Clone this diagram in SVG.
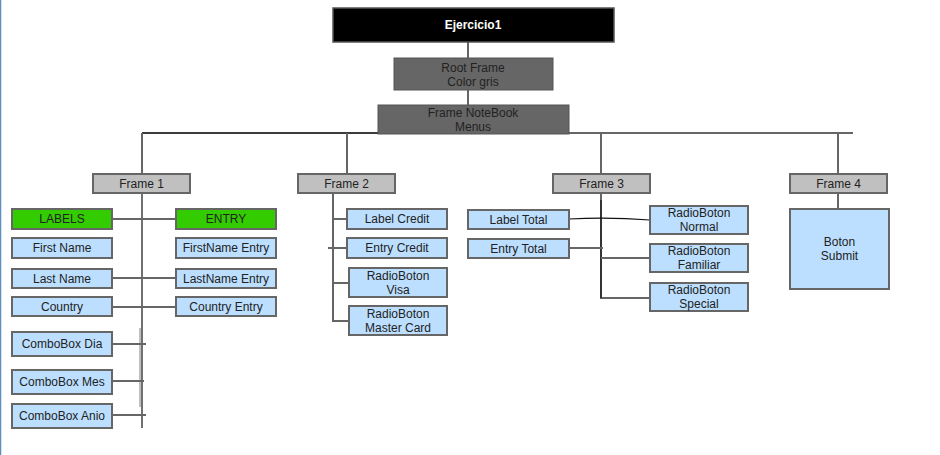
<svg xmlns="http://www.w3.org/2000/svg" width="940" height="455" viewBox="0 0 940 455">
<style>
  text { font-family: "Liberation Sans", Arial, sans-serif; font-size: 12px; fill: #222222; text-anchor: middle; dominant-baseline: central; }
  .blue { fill: #bcdfff; stroke: #666666; stroke-width: 2; }
  .green { fill: #33cc00; stroke: #666666; stroke-width: 2; }
  .frame { fill: #c0c0c0; stroke: #666666; stroke-width: 2; }
  .dark { fill: #666666; stroke: #555555; stroke-width: 1; }
  .conn { fill: none; stroke: #666666; stroke-width: 2; }
  .blk { fill: none; stroke: #111111; stroke-width: 1.2; }
</style>
<rect x="0" y="0" width="940" height="455" fill="#ffffff"/>
<line x1="0.5" y1="0" x2="0.5" y2="455" stroke="#5a8fc0" stroke-width="1.5"/>

<g id="connectors">
  <line class="conn" x1="468" y1="42" x2="468" y2="58"/>
  <line class="conn" x1="468" y1="90" x2="468" y2="105"/>
  <line class="conn" x1="142" y1="133" x2="853" y2="133"/>
  <line class="blk" x1="142" y1="133" x2="380" y2="133"/>
  <line class="conn" x1="142" y1="133" x2="142" y2="174"/>
  <line class="conn" x1="347" y1="133" x2="347" y2="174"/>
  <line class="conn" x1="601" y1="133" x2="601" y2="174"/>
  <line class="conn" x1="838" y1="133" x2="838" y2="174"/>
  <!-- Frame 1 -->
  <line class="blk" x1="142" y1="193" x2="142" y2="428"/>
  <line x1="140" y1="328" x2="140" y2="407" stroke="#aaaaaa" stroke-width="1.5"/>
  <line class="conn" x1="112" y1="219" x2="176" y2="219"/>
  <line class="conn" x1="112" y1="278" x2="176" y2="278"/>
  <line class="conn" x1="112" y1="307" x2="176" y2="307"/>
  <line class="conn" x1="112" y1="344" x2="146" y2="344"/>
  <line class="conn" x1="109" y1="381" x2="144" y2="381"/>
  <line class="conn" x1="112" y1="415" x2="146" y2="415"/>
  <!-- Frame 2 -->
  <path class="conn" d="M333 193 V321 H349"/>
  <line class="conn" x1="333" y1="219" x2="347" y2="219"/>
  <line class="conn" x1="328" y1="248" x2="347" y2="248"/>
  <line class="conn" x1="333" y1="283" x2="349" y2="283"/>
  <!-- Frame 3 -->
  <path class="conn" d="M601 193 V298 H650"/>
  <line class="blk" x1="601" y1="200" x2="601" y2="298"/>
  <path class="blk" d="M569 219 Q610 217 650 220"/>
  <line class="conn" x1="569" y1="248" x2="603" y2="248"/>
  <line class="conn" x1="601" y1="258" x2="650" y2="258"/>
  <!-- Frame 4 -->
  <line class="conn" x1="838" y1="193" x2="838" y2="209"/>
</g>

<g id="ejercicio1">
  <rect x="333" y="8" width="281" height="34" fill="#000000" stroke="#555555" stroke-width="1.5"/>
  <text x="473" y="25" style="fill:#ffffff;font-weight:bold">Ejercicio1</text>
</g>
<g id="root-frame">
  <rect class="dark" x="394" y="58" width="159" height="32"/>
  <text x="473" y="68">Root Frame</text>
  <text x="473" y="82">Color gris</text>
</g>
<g id="frame-notebook">
  <rect class="dark" x="378" y="105" width="191" height="29"/>
  <text x="473" y="113">Frame NoteBook</text>
  <text x="473" y="127">Menus</text>
</g>

<g id="frame1"><rect class="frame" x="93" y="174" width="97" height="19"/><text x="141.5" y="184">Frame 1</text></g>
<g id="frame2"><rect class="frame" x="298" y="174" width="97" height="19"/><text x="346.5" y="184">Frame 2</text></g>
<g id="frame3"><rect class="frame" x="553" y="174" width="97" height="19"/><text x="601.5" y="184">Frame 3</text></g>
<g id="frame4"><rect class="frame" x="790" y="174" width="97" height="19"/><text x="838.5" y="184">Frame 4</text></g>

<g id="labels"><rect class="green" x="12" y="209" width="100" height="20"/><text x="62" y="219">LABELS</text></g>
<g id="entry"><rect class="green" x="176" y="209" width="100" height="20"/><text x="226" y="219">ENTRY</text></g>
<g id="first-name"><rect class="blue" x="12" y="238" width="100" height="20"/><text x="62" y="248">First Name</text></g>
<g id="firstname-entry"><rect class="blue" x="176" y="238" width="100" height="20"/><text x="226" y="248">FirstName Entry</text></g>
<g id="last-name"><rect class="blue" x="12" y="269" width="100" height="19"/><text x="62" y="278.5">Last Name</text></g>
<g id="lastname-entry"><rect class="blue" x="176" y="269" width="100" height="19"/><text x="226" y="278.5">LastName Entry</text></g>
<g id="country"><rect class="blue" x="12" y="297" width="100" height="19"/><text x="62" y="306.5">Country</text></g>
<g id="country-entry"><rect class="blue" x="176" y="297" width="100" height="19"/><text x="226" y="306.5">Country Entry</text></g>
<g id="combo-dia"><rect class="blue" x="12" y="332" width="100" height="24"/><text x="62" y="344">ComboBox Dia</text></g>
<g id="combo-mes"><rect class="blue" x="12" y="370" width="100" height="24"/><text x="62" y="382">ComboBox Mes</text></g>
<g id="combo-anio"><rect class="blue" x="12" y="404" width="100" height="24"/><text x="62" y="416">ComboBox Anio</text></g>

<g id="label-credit"><rect class="blue" x="347" y="209" width="100" height="20"/><text x="397" y="219">Label Credit</text></g>
<g id="entry-credit"><rect class="blue" x="347" y="238" width="100" height="20"/><text x="397" y="248">Entry Credit</text></g>
<g id="rb-visa"><rect class="blue" x="349" y="268" width="98" height="29"/><text x="398" y="276">RadioBoton</text><text x="398" y="290">Visa</text></g>
<g id="rb-master"><rect class="blue" x="349" y="306" width="98" height="29"/><text x="398" y="314">RadioBoton</text><text x="398" y="328">Master Card</text></g>

<g id="label-total"><rect class="blue" x="468" y="210" width="101" height="19"/><text x="518.5" y="219.5">Label Total</text></g>
<g id="entry-total"><rect class="blue" x="468" y="239" width="101" height="19"/><text x="518.5" y="248.5">Entry Total</text></g>
<g id="rb-normal"><rect class="blue" x="650" y="206" width="98" height="28"/><text x="699" y="213">RadioBoton</text><text x="699" y="227">Normal</text></g>
<g id="rb-familiar"><rect class="blue" x="650" y="244" width="98" height="28"/><text x="699" y="251">RadioBoton</text><text x="699" y="265">Familiar</text></g>
<g id="rb-special"><rect class="blue" x="650" y="283" width="98" height="28"/><text x="699" y="290">RadioBoton</text><text x="699" y="304">Special</text></g>

<g id="boton-submit"><rect class="blue" x="790" y="209" width="99" height="80"/><text x="839.5" y="242">Boton</text><text x="839.5" y="256">Submit</text></g>
</svg>
